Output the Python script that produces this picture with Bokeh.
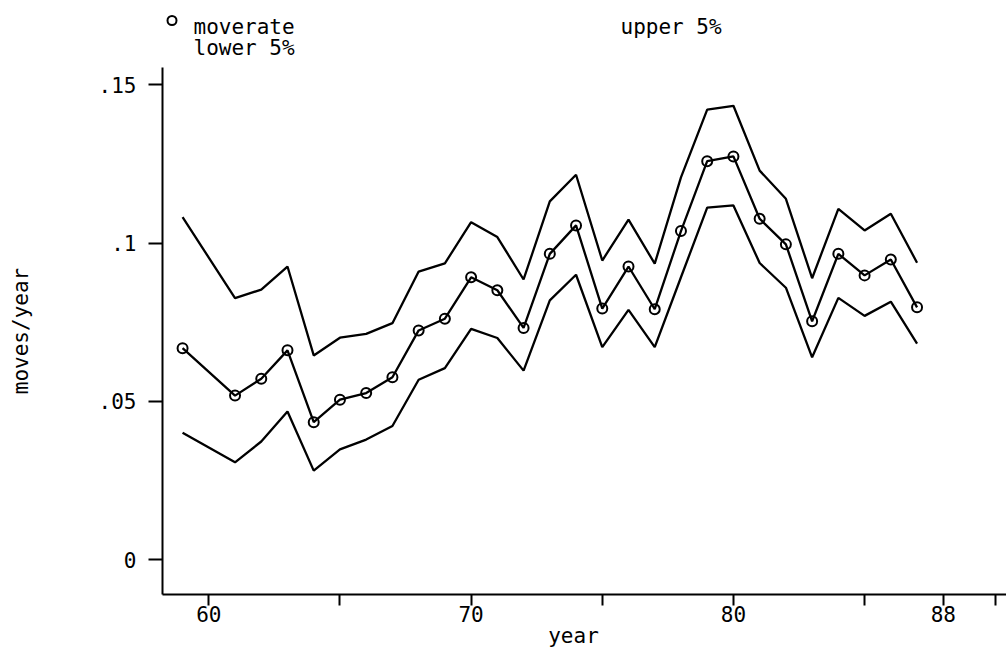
import math
from bokeh.plotting import figure
from bokeh.models import Range1d, FixedTicker, LinearAxis
from bokeh.layouts import column
from bokeh.core.properties import value
from bokeh.embed import file_html
from bokeh.resources import INLINE

# ---- data ----
years = [59, 61, 62, 63, 64, 65, 66, 67, 68, 69, 70, 71, 72, 73, 74, 75, 76, 77,
         78, 79, 80, 81, 82, 83, 84, 85, 86, 87]
moverate = [0.0668, 0.0518, 0.0571, 0.0661, 0.0434, 0.0505, 0.0526, 0.0576, 0.0724,
            0.0761, 0.0892, 0.0851, 0.0732, 0.0966, 0.1056, 0.0793, 0.0926, 0.0791,
            0.1038, 0.1259, 0.1274, 0.1077, 0.0996, 0.0753, 0.0966, 0.0898, 0.0948,
            0.0797]
upper5 = [0.1082, 0.0826, 0.0853, 0.0926, 0.0645, 0.0701, 0.0713, 0.0747, 0.0910,
          0.0936, 0.1066, 0.1019, 0.0885, 0.1132, 0.1216, 0.0945, 0.1074, 0.0935,
          0.1208, 0.1422, 0.1434, 0.1229, 0.1140, 0.0889, 0.1108, 0.1040, 0.1093,
          0.0938]
lower5 = [0.0401, 0.0307, 0.0373, 0.0468, 0.0281, 0.0348, 0.0379, 0.0422, 0.0568,
          0.0605, 0.0729, 0.0700, 0.0597, 0.0819, 0.0900, 0.0671, 0.0789, 0.0671,
          0.0892, 0.1112, 0.1119, 0.0937, 0.0859, 0.0639, 0.0827, 0.0770, 0.0815,
          0.0682]

x_ticks = [60, 65, 70, 75, 80, 85, 88, 90]
x_tick_labels = {60: "60", 65: "", 70: "70", 75: "", 80: "80", 85: "", 88: "88", 90: ""}
y_ticks = [0, 0.05, 0.1, 0.15]
y_tick_labels = {0: "0", 0.05: ".05", 0.1: ".1", 0.15: ".15"}

legend_names = ["moverate", "lower 5%", "upper 5%"]
x_title = "year"
y_title = "moves/year"

FONT = "DejaVu Sans Mono"
FS = "21px"
LW = 2.3

# ---- layout constants (pixels) ----
W, H = 1006, 651
TOP_H = 67                   # legend strip height = frame top of main plot
FL, FB = 162, 594            # frame left, frame bottom (page pixels)
MAIN_H = H - TOP_H
XMIN, XMAX = 58.235, 90.41
YMIN, YMAX = -0.01106, 0.1555


def px_to_x(px):
    return XMIN + (px - FL) / (W - FL) * (XMAX - XMIN)


# ---- legend strip (Stata-style key above the plot) ----
# the column aligns this strip's frame with the main frame (page x FL..W)
top = figure(width=W, height=TOP_H, output_backend="svg", toolbar_location=None,
             x_range=Range1d(FL, W), y_range=Range1d(TOP_H, 0),
             x_axis_type=None, y_axis_type=None,
             min_border_left=FL, min_border_right=0, min_border_top=0, min_border_bottom=0)
top.outline_line_color = None
top.grid.visible = False
top.scatter([171.5], [20], marker="circle", size=9, fill_alpha=0,
            line_color="black", line_width=2)
top.text(x=[193, 193, 620], y=[26, 47.5, 26], text=legend_names,
         text_font=value(FONT), text_font_size=FS, text_color="black",
         text_baseline="alphabetic", text_align="left")

# ---- main plot ----
p = figure(width=W, height=MAIN_H, output_backend="svg", toolbar_location=None,
           x_range=Range1d(XMIN, XMAX), y_range=Range1d(YMIN, YMAX),
           min_border_left=FL, min_border_right=0, min_border_top=0,
           min_border_bottom=H - FB)
p.outline_line_color = None
p.grid.visible = False

for ax in (p.xaxis[0], p.yaxis[0]):
    ax.axis_line_width = 2
    ax.axis_line_color = "black"
    ax.major_tick_line_width = 2
    ax.major_tick_line_color = "black"
    ax.major_tick_in = 0
    ax.minor_tick_line_color = None
    ax.major_label_text_font = FONT
    ax.major_label_text_font_size = FS
    ax.major_label_text_color = "black"

p.xaxis[0].ticker = FixedTicker(ticks=x_ticks)
p.xaxis[0].major_label_overrides = x_tick_labels
p.xaxis[0].major_tick_out = 11
p.xaxis[0].major_label_standoff = 0

p.yaxis[0].ticker = FixedTicker(ticks=y_ticks)
p.yaxis[0].major_label_overrides = y_tick_labels
p.yaxis[0].major_tick_out = 14
p.yaxis[0].major_label_standoff = 12
p.yaxis[0].axis_label = y_title
p.yaxis[0].axis_label_text_font = FONT
p.yaxis[0].axis_label_text_font_size = FS
p.yaxis[0].axis_label_text_font_style = "normal"
p.yaxis[0].axis_label_text_color = "black"
p.yaxis[0].axis_label_standoff = 63

# x title as a second, line-less axis so it sits where the reference has it
xt = px_to_x(573)
title_axis = LinearAxis(ticker=FixedTicker(ticks=[xt]),
                        major_label_overrides={xt: x_title},
                        axis_line_color=None, major_tick_line_color=None,
                        minor_tick_line_color=None, major_tick_out=0, major_tick_in=0,
                        major_label_standoff=-1,
                        major_label_text_font=FONT, major_label_text_font_size=FS,
                        major_label_text_color="black")
p.add_layout(title_axis, "below")

# ---- series ----
p.line(years, upper5, line_color="black", line_width=LW)
p.line(years, lower5, line_color="black", line_width=LW)
p.line(years, moverate, line_color="black", line_width=LW)
p.scatter(years, moverate, marker="circle", size=10, fill_alpha=0,
          line_color="black", line_width=2)

layout = column(top, p, spacing=0)
open("out.html", "w").write(file_html(layout, INLINE))
